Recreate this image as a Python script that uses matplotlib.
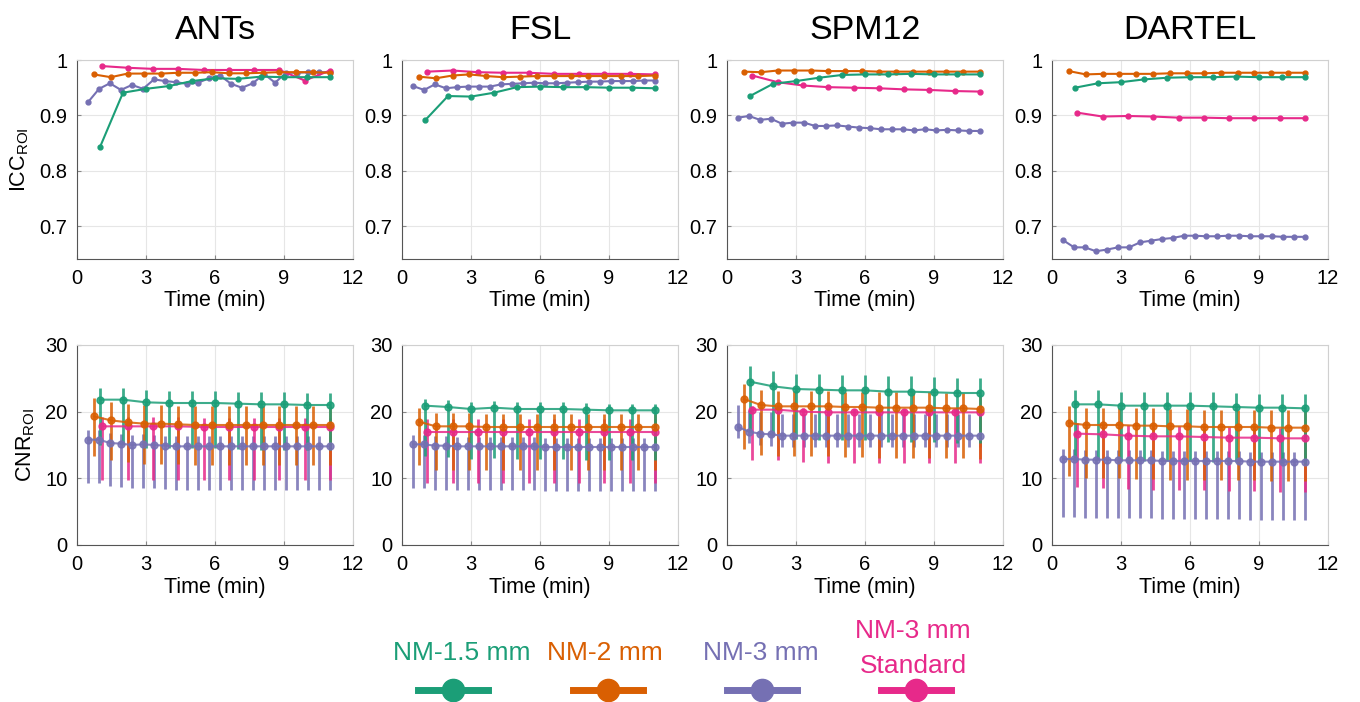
import matplotlib
matplotlib.use('Agg')
import matplotlib.pyplot as plt
from matplotlib.lines import Line2D

plt.rcParams['font.family'] = ['Liberation Sans', 'DejaVu Sans']
plt.rcParams['mathtext.fontset'] = 'custom'
plt.rcParams['mathtext.rm'] = 'Liberation Sans'

# colours per protocol
green = '#1b9e77'
orange = '#d95f02'
purple = '#7570b3'
pink = '#e7298a'

labels = ['NM-1.5 mm', 'NM-2 mm', 'NM-3 mm', 'NM-3 mm\nStandard']
titles = ['ANTs', 'FSL', 'SPM12', 'DARTEL']

# acquisition times (min) for each protocol
t_15 = [1, 2, 3, 4, 5, 6, 7, 8, 9, 10, 11]
t_2 = [0.73, 1.47, 2.2, 2.93, 3.67, 4.4, 5.13, 5.87, 6.6, 7.33, 8.07, 8.8, 9.53, 10.27, 11.0]
t_3 = [0.48, 0.96, 1.43, 1.91, 2.39, 2.87, 3.35, 3.83, 4.3, 4.78, 5.26, 5.74,
       6.22, 6.7, 7.17, 7.65, 8.13, 8.61, 9.09, 9.57, 10.04, 10.52, 11.0]
t_std = [1.1, 2.2, 3.3, 4.4, 5.5, 6.6, 7.7, 8.8, 9.9, 11.0]

# ICC_ROI values
ants_icc_15 = [0.843, 0.941, 0.948, 0.953, 0.962, 0.967, 0.966, 0.970, 0.969, 0.969, 0.969]
ants_icc_2 = [0.974, 0.969, 0.9755, 0.9755, 0.9755, 0.977, 0.977, 0.978, 0.976, 0.976,
              0.977, 0.978, 0.978, 0.978, 0.977]
ants_icc_3 = [0.924, 0.948, 0.958, 0.946, 0.955, 0.948, 0.965, 0.962, 0.960, 0.957, 0.959, 0.967,
              0.972, 0.957, 0.950, 0.958, 0.975, 0.959, 0.977, 0.977, 0.978, 0.978, 0.978]
ants_icc_std = [0.989, 0.986, 0.984, 0.984, 0.982, 0.982, 0.982, 0.982, 0.963, 0.981]

fsl_icc_15 = [0.891, 0.935, 0.934, 0.941, 0.951, 0.952, 0.951, 0.951, 0.950, 0.950, 0.949]
fsl_icc_2 = [0.970, 0.967, 0.972, 0.974, 0.971, 0.969, 0.970, 0.971, 0.971, 0.971,
             0.971, 0.971, 0.971, 0.971, 0.972]
fsl_icc_3 = [0.953, 0.946, 0.956, 0.949, 0.951, 0.952, 0.952, 0.952, 0.956, 0.957, 0.958, 0.959,
             0.958, 0.958, 0.959, 0.960, 0.961, 0.961, 0.962, 0.962, 0.962, 0.963, 0.963]
fsl_icc_std = [0.979, 0.981, 0.978, 0.977, 0.977, 0.975, 0.975, 0.975, 0.975, 0.974]

spm_icc_15 = [0.935, 0.957, 0.962, 0.968, 0.973, 0.974, 0.974, 0.975, 0.974, 0.974, 0.974]
spm_icc_2 = [0.979, 0.978, 0.981, 0.981, 0.981, 0.980, 0.980, 0.980, 0.979, 0.979,
             0.979, 0.979, 0.979, 0.979, 0.979]
spm_icc_3 = [0.896, 0.899, 0.892, 0.894, 0.885, 0.887, 0.887, 0.881, 0.881, 0.882, 0.880, 0.878,
             0.877, 0.875, 0.875, 0.875, 0.873, 0.875, 0.873, 0.874, 0.873, 0.872, 0.872]
spm_icc_std = [0.972, 0.960, 0.954, 0.951, 0.950, 0.949, 0.947, 0.946, 0.944, 0.943]

dartel_icc_15 = [0.950, 0.958, 0.960, 0.965, 0.968, 0.969, 0.969, 0.970, 0.969, 0.969, 0.969]
dartel_icc_2 = [0.980, 0.974, 0.975, 0.975, 0.975, 0.975, 0.976, 0.976, 0.976, 0.977,
                0.977, 0.977, 0.977, 0.977, 0.977]
dartel_icc_3 = [0.675, 0.662, 0.662, 0.655, 0.658, 0.662, 0.662, 0.671, 0.674, 0.677, 0.679, 0.683,
                0.683, 0.682, 0.682, 0.683, 0.683, 0.682, 0.682, 0.682, 0.681, 0.681, 0.681]
dartel_icc_std = [0.905, 0.898, 0.899, 0.898, 0.896, 0.896, 0.895, 0.895, 0.895, 0.895]

# CNR_ROI means
ants_cnr_15 = [21.8, 21.8, 21.4, 21.3, 21.3, 21.3, 21.2, 21.1, 21.1, 21.0, 21.0]
ants_cnr_2 = [19.3, 18.7, 18.4, 18.2, 18.2, 18.1, 18.0, 18.0, 18.0, 18.0, 18.0, 18.0, 18.0, 18.0, 18.0]
ants_cnr_3 = [15.8, 15.8, 15.3, 15.2, 15.0, 15.1, 15.0, 14.9, 14.8, 14.8, 14.8, 14.8,
              14.8, 14.8, 14.8, 14.8, 14.8, 14.8, 14.8, 14.8, 14.8, 14.8, 14.8]
ants_cnr_std = [17.8, 17.8, 17.8, 17.8, 17.7, 17.7, 17.7, 17.7, 17.7, 17.7]

fsl_cnr_15 = [20.9, 20.7, 20.4, 20.6, 20.4, 20.4, 20.4, 20.3, 20.2, 20.2, 20.2]
fsl_cnr_2 = [18.5, 17.8, 17.8, 17.8, 17.7, 17.7, 17.7, 17.7, 17.7, 17.7, 17.7, 17.7, 17.7, 17.7, 17.7]
fsl_cnr_3 = [15.1, 15.1, 14.9, 14.9, 14.8, 14.8, 14.8, 14.8, 14.8, 14.8, 14.8, 14.8,
             14.7, 14.7, 14.7, 14.7, 14.7, 14.7, 14.7, 14.7, 14.7, 14.7, 14.7]
fsl_cnr_std = [16.9, 16.9, 16.9, 16.9, 16.9, 16.9, 16.9, 16.9, 16.9, 16.9]

spm_cnr_15 = [24.5, 23.8, 23.4, 23.3, 23.2, 23.2, 23.0, 23.0, 22.9, 22.8, 22.8]
spm_cnr_2 = [21.9, 21.0, 20.8, 20.8, 20.8, 20.8, 20.7, 20.7, 20.6, 20.6, 20.6, 20.6, 20.5, 20.5, 20.4]
spm_cnr_3 = [17.7, 17.0, 16.7, 16.6, 16.4, 16.4, 16.4, 16.4, 16.4, 16.4, 16.4, 16.4,
             16.4, 16.4, 16.4, 16.4, 16.4, 16.4, 16.4, 16.4, 16.4, 16.4, 16.4]
spm_cnr_std = [20.3, 20.3, 20.0, 19.9, 19.9, 19.9, 19.9, 19.9, 19.9, 19.9]

dartel_cnr_15 = [21.1, 21.1, 20.9, 20.9, 20.9, 20.9, 20.8, 20.7, 20.6, 20.6, 20.5]
dartel_cnr_2 = [18.3, 18.0, 18.0, 18.0, 17.9, 17.9, 17.8, 17.8, 17.7, 17.7, 17.7, 17.7, 17.6, 17.6, 17.6]
dartel_cnr_3 = [12.9, 12.9, 12.8, 12.8, 12.8, 12.7, 12.7, 12.7, 12.7, 12.6, 12.6, 12.6,
                12.6, 12.6, 12.6, 12.6, 12.6, 12.5, 12.5, 12.5, 12.5, 12.5, 12.5]
dartel_cnr_std = [16.7, 16.6, 16.4, 16.3, 16.3, 16.2, 16.1, 16.1, 16.0, 16.0]

# CNR error bar extents (above, below) per protocol: 1.5, 2, 3, std
ants_err_up = [1.8, 2.8, 1.5, 1.4]
ants_err_dn = [6.8, 6.0, 6.5, 8.0]
fsl_err_up = [1.0, 2.0, 1.4, 2.0]
fsl_err_dn = [7.5, 6.5, 6.6, 7.6]
spm_err_up = [2.3, 2.3, 3.3, 0.5]
spm_err_dn = [7.5, 7.5, 1.7, 7.6]
dartel_err_up = [2.1, 2.6, 1.5, 1.6]
dartel_err_dn = [8.3, 8.0, 8.7, 8.0]

times = [t_15, t_2, t_3, t_std]
colors = [green, orange, purple, pink]
icc = [[ants_icc_15, ants_icc_2, ants_icc_3, ants_icc_std],
       [fsl_icc_15, fsl_icc_2, fsl_icc_3, fsl_icc_std],
       [spm_icc_15, spm_icc_2, spm_icc_3, spm_icc_std],
       [dartel_icc_15, dartel_icc_2, dartel_icc_3, dartel_icc_std]]
cnr = [[ants_cnr_15, ants_cnr_2, ants_cnr_3, ants_cnr_std],
       [fsl_cnr_15, fsl_cnr_2, fsl_cnr_3, fsl_cnr_std],
       [spm_cnr_15, spm_cnr_2, spm_cnr_3, spm_cnr_std],
       [dartel_cnr_15, dartel_cnr_2, dartel_cnr_3, dartel_cnr_std]]
err_up = [ants_err_up, fsl_err_up, spm_err_up, dartel_err_up]
err_dn = [ants_err_dn, fsl_err_dn, spm_err_dn, dartel_err_dn]

W, H = 1360, 702
fig = plt.figure(figsize=(W / 100, H / 100), dpi=100)

lefts = [77, 402, 727, 1052]
aw = 276


def style(ax):
    ax.set_xlim(0, 12)
    ax.set_xticks([0, 3, 6, 9, 12])
    ax.grid(True, color='#e6e6e6', linewidth=0.8)
    ax.set_axisbelow(True)
    for s in ['top', 'right']:
        ax.spines[s].set_color('#d0d0d0')
    for s in ['left', 'bottom']:
        ax.spines[s].set_color('#555555')
    ax.tick_params(direction='in', length=3, color='#888888', labelsize=14.5, pad=7)
    ax.set_xlabel('Time (min)', fontsize=15.5, labelpad=2)


order = [2, 3, 1, 0]
for i in range(4):
    # top row: ICC
    ax = fig.add_axes([lefts[i] / W, 1 - 259 / H, aw / W, 199 / H])
    style(ax)
    for k in order:
        ax.plot(times[k], icc[i][k], '-o', color=colors[k], lw=1.5, ms=3.5)
    ax.set_ylim(0.641, 1.0)
    ax.set_yticks([0.7, 0.8, 0.9, 1.0])
    ax.set_yticklabels(['0.7', '0.8', '0.9', '1'])
    ax.set_title(titles[i], fontsize=24.5, pad=15)
    if i == 0:
        ax.set_ylabel('ICC$_{\\mathrm{ROI}}$', fontsize=15.5, labelpad=6)

    # bottom row: CNR
    ax = fig.add_axes([lefts[i] / W, 1 - 545 / H, aw / W, 200 / H])
    style(ax)
    for k in order:
        ax.errorbar(times[k], cnr[i][k], yerr=[[err_dn[i][k]] * len(times[k]), [err_up[i][k]] * len(times[k])],
                    fmt='-o', color=colors[k], ecolor=colors[k], elinewidth=2, lw=1.5, ms=5,
                    capsize=0, alpha=0.85)
    ax.set_ylim(0, 30)
    ax.set_yticks([0, 10, 20, 30])
    if i == 0:
        ax.set_ylabel('CNR$_{\\mathrm{ROI}}$', fontsize=15.5, labelpad=6)

# legend drawn under the panels
text_x = [462, 605, 761, 913]
line_x = [453, 608, 762, 916]
for k in range(4):
    parts = labels[k].split('\n')
    base = 660 if len(parts) == 1 else 638
    for j, part in enumerate(parts):
        fig.text(text_x[k] / W, 1 - (base + 35 * j) / H, part, color=colors[k], fontsize=19,
                 ha='center', va='baseline')
    cx = line_x[k] / W
    ly = 1 - 690 / H
    fig.add_artist(Line2D([cx - 35 / W, cx + 35 / W], [ly, ly], transform=fig.transFigure,
                          color=colors[k], lw=5))
    fig.add_artist(Line2D([cx], [ly], transform=fig.transFigure, marker='o',
                          color=colors[k], ms=16))

fig.savefig('out.png', dpi=100)
